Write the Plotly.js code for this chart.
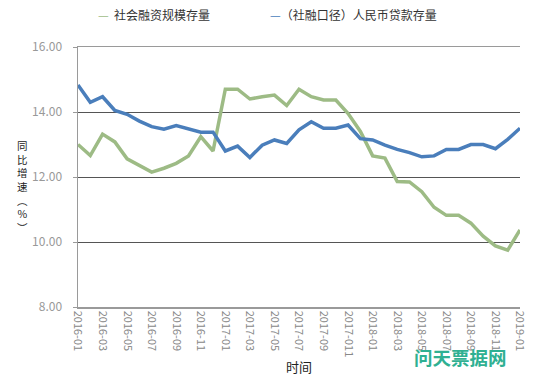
<!DOCTYPE html>
<html><head><meta charset="utf-8">
<script src="https://cdn.plot.ly/plotly-3.0.1.min.js"></script>
<style>html,body{margin:0;padding:0;background:#fff}#chart{width:542px;height:382px}</style>
</head><body><div id="chart"></div>
<script>
const months = ["2016-01","2016-02","2016-03","2016-04","2016-05","2016-06","2016-07","2016-08","2016-09","2016-10","2016-11","2016-12",
"2017-01","2017-02","2017-03","2017-04","2017-05","2017-06","2017-07","2017-08","2017-09","2017-10","2017-11","2017-12",
"2018-01","2018-02","2018-03","2018-04","2018-05","2018-06","2018-07","2018-08","2018-09","2018-10","2018-11","2018-12","2019-01"];
const socialFinancing = [13.00,12.66,13.32,13.08,12.56,12.35,12.15,12.27,12.42,12.65,13.24,12.80,
14.70,14.70,14.40,14.47,14.52,14.20,14.70,14.47,14.37,14.37,13.95,13.40,
12.65,12.58,11.86,11.85,11.55,11.07,10.82,10.82,10.58,10.18,9.88,9.75,10.37];
const rmbLoans = [14.83,14.30,14.47,14.05,13.93,13.72,13.55,13.47,13.58,13.48,13.38,13.38,
12.80,12.95,12.60,12.98,13.14,13.03,13.45,13.70,13.50,13.50,13.60,13.18,
13.14,12.98,12.85,12.75,12.62,12.65,12.85,12.85,13.00,13.00,12.87,13.16,13.50];
const tickVals = ["2016-01","2016-03","2016-05","2016-07","2016-09","2016-11","2017-01","2017-03","2017-05","2017-07","2017-09","2017-11","2018-01","2018-03","2018-05","2018-07","2018-09","2018-11","2019-01"];
const tickText = ["2016-01","2016-03","2016-05","2016-07","2016-09","2016-11","2017-01","2017-03","2017-05","2017-07","2017-09","2017-011","2018-01","2018-03","2018-05","2018-07","2018-09","2018-11","2019-01"];
const seriesNames = ["社会融资规模存量","（社融口径）人民币贷款存量"];
const yTicks = [8,10,12,14,16];

const green = '#9DBB85', blue = '#4A7EBB';
const font = "'Noto Sans CJK SC', 'Noto Sans', sans-serif";

const traces = [
  {x: months, y: socialFinancing, type:'scatter', mode:'lines', name: seriesNames[0], line:{color:green, width:3.5}},
  {x: months, y: rmbLoans, type:'scatter', mode:'lines', name: seriesNames[1], line:{color:blue, width:3.5}}
];

const layout = {
  width:542, height:382,
  margin:{l:78, r:22, t:47, b:75},
  paper_bgcolor:'#fff', plot_bgcolor:'#fff',
  showlegend:false,
  font:{family:font, color:'#333'},
  xaxis:{type:'category', range:[0, months.length-1], tickmode:'array', tickvals:tickVals, ticktext:tickText,
    tickangle:90, tickfont:{size:11, color:'#888', family:font}, showgrid:false, showline:true, linecolor:'#9a9a9a', linewidth:1.5,
    mirror:true, ticks:'', zeroline:false,
    title:{text:'时间', font:{size:13, color:'#222', family:font}, standoff:6}},
  yaxis:{range:[8,16], tickmode:'array', tickvals:yTicks, tickformat:'.2f', tickfont:{size:12, color:'#999', family:font},
    showgrid:true, gridcolor:'#555', gridwidth:1, showline:true, linecolor:'#9a9a9a', linewidth:1.5,
    ticks:'outside', ticklen:4, tickcolor:'#9a9a9a', zeroline:false, ticklabelstandoff:8},
  annotations:[
    {xref:'paper', yref:'paper', x:-0.125, y:0.465, xanchor:'center', yanchor:'middle', showarrow:false,
     text:'同<br>比<br>增<br>速<br>︵<br>%<br>︶', font:{size:10.5, color:'#222', family:font}},
    {xref:'paper', yref:'paper', x:0.04, y:1.125, xanchor:'left', yanchor:'middle', showarrow:false,
     text:'<span style="color:'+green+'">—</span>  '+seriesNames[0], font:{size:12, color:'#333', family:font}},
    {xref:'paper', yref:'paper', x:0.43, y:1.125, xanchor:'left', yanchor:'middle', showarrow:false,
     text:'<span style="color:'+blue+'">—</span>'+seriesNames[1], font:{size:12, color:'#333', family:font}},
    {xref:'paper', yref:'paper', x:0.975, y:-0.135, xanchor:'right', yanchor:'top', showarrow:false,
     text:'<b>问天票据网</b>', font:{size:18.5, color:'#2FB092', family:font}},
    {xref:'paper', yref:'paper', x:0.99, y:-0.27, xanchor:'right', yanchor:'top', showarrow:false,
     text:'数据来源：Wind', font:{size:12, color:'#333', family:font}}
  ]
};
Plotly.newPlot('chart', traces, layout, {displayModeBar:false, staticPlot:true});
</script></body></html>
